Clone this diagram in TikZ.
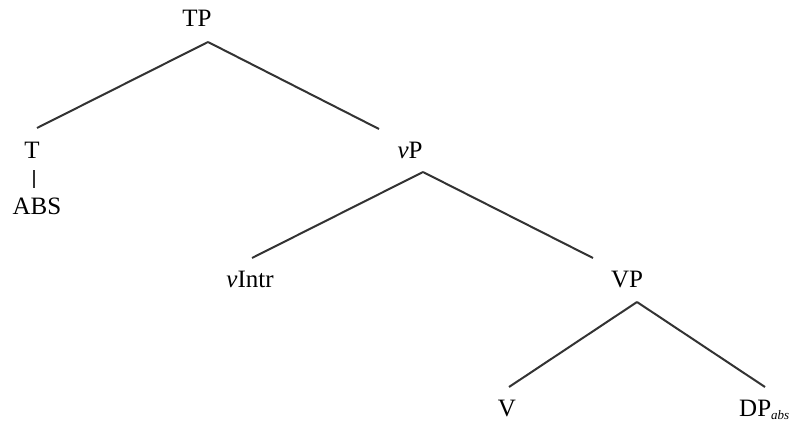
\documentclass[tikz,border=0pt]{standalone}
\usepackage{fontspec}
\setmainfont{Liberation Serif}
\begin{document}
\begin{tikzpicture}[x=1pt,y=-1pt,
  lbl/.style={anchor=base,inner sep=0pt,font=\fontsize{25}{30}\selectfont},
  branch/.style={line width=2pt,draw=black!80}]
\useasboundingbox (0,0) rectangle (795,425);
% labels, placed by their baselines
\node[lbl] (TP)  at (197,27)  {TP};
\node[lbl] (T)   at (32,158)  {T};
\node[lbl] (ABS) at (37,214)  {ABS};
\node[lbl] (vP)  at (410,158) {\textit{v}P};
\node[lbl] (vI)  at (250,287) {\textit{v}Intr};
\node[lbl] (VP)  at (627,287) {VP};
\node[lbl] (V)   at (507,416) {V};
\node[lbl,anchor=base west] (DP) at (739,416) {DP\raisebox{-3pt}{\fontsize{13}{15}\selectfont\itshape abs}};
% branches
\draw[branch] ([shift={(11,15)}]TP.base) -- ([shift={(5,-30)}]T.base);
\draw[branch] ([shift={(11,15)}]TP.base) -- ([shift={(-31,-29)}]vP.base);
\draw[branch,line width=1.6pt] ([shift={(2,12)}]T.base) -- ([shift={(-3,-26)}]ABS.base);
\draw[branch] ([shift={(13,14)}]vP.base) -- ([shift={(2,-29)}]vI.base);
\draw[branch] ([shift={(13,14)}]vP.base) -- ([shift={(-34,-29)}]VP.base);
\draw[branch] ([shift={(10,15)}]VP.base) -- ([shift={(2,-29)}]V.base);
\draw[branch] ([shift={(10,15)}]VP.base) -- ([shift={(26,-29)}]DP.base west);
\end{tikzpicture}
\end{document}
